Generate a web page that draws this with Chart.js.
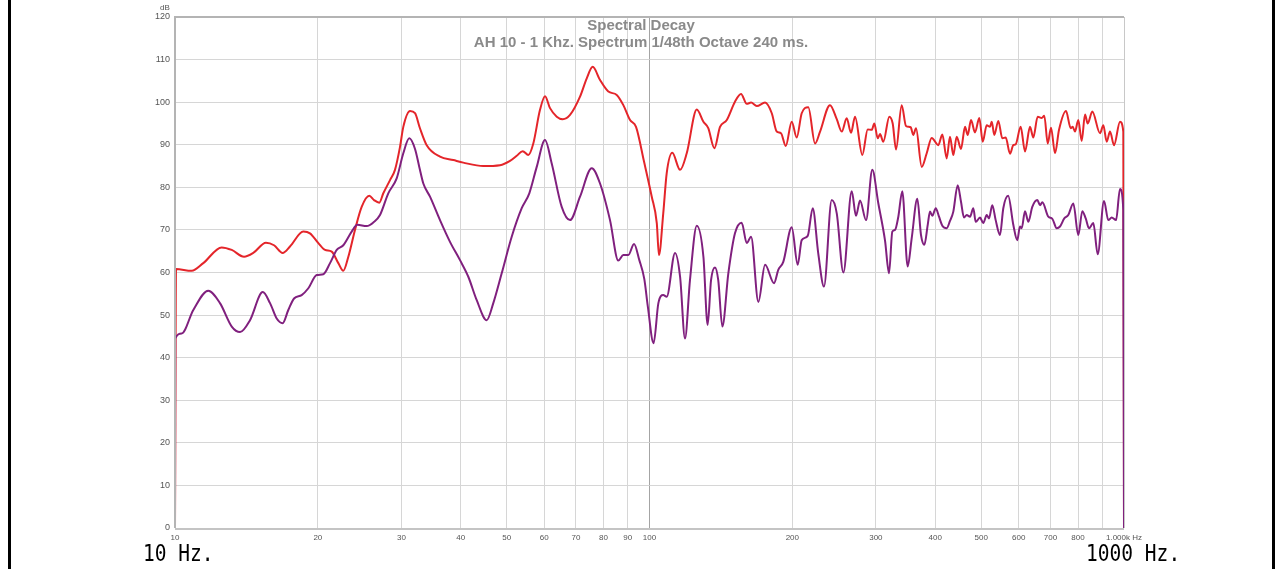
<!DOCTYPE html>
<html>
<head>
<meta charset="utf-8">
<script src="https://cdn.jsdelivr.net/npm/chart.js@4.4.1/dist/chart.umd.min.js"></script>
<style>
html,body{margin:0;padding:0;background:#fff;}
canvas{display:block;}
</style>
</head>
<body>
<canvas id="c" width="1276" height="569"></canvas>
<script>
// ---- data ----
const redHz = [10,10.05,10.84,11.47,12.54,13.17,13.98,14.62,15.55,16.17,16.86,17.47,18.64,19.25,20.05,20.71,21.39,22.09,22.63,23.19,23.95,24.74,25.67,26.27,26.95,27.48,28.39,29.08,29.80,30.28,31.28,32.05,32.8,33.92,36.18,38.60,40.51,44.64,48.41,50.82,52.50,54.05,55.54,56.90,58.78,60.23,61.71,63.75,65.63,68.00,71.38,73.75,75.92,78.66,81.89,85.30,88.08,90.99,93.67,97.4,101.1,103.6,104.7,106.9,108.7,111.7,116.0,119.8,125.8,129.9,133.0,137.0,140.8,145.5,151.4,155.9,160.3,163.7,168.3,175.2,181.0,185.4,189.3,193.7,199.4,204.3,209.3,216.1,223.3,228.8,240.1,248.1,254.2,260.4,265.9,271.1,280.9,288.3,294.0,297.7,302.7,306.1,311.0,320.2,325.5,330.8,340.0,347.2,355.2,359.7,364.5,374.7,383.9,
  393.3,406.1,414.1,423.0,429.8,436.8,444.0,453.4,462.3,468.4,476.0,485.3,495.5,503.9,513.6,521.9,526.3,533.0,543.4,554.1,563.3,575.1,584.4,591.3,605.7,618.6,633.7,644.0,657.8,670.8,679.3,690.6,701.8,715.5,729.6,754.7,772.1,779.7,788.4,801.1,814.4,827.6,838.5,857.4,890.1,904.5,919.5,934.4,952.7,980.8,996.6,1000];
const redDb = [0,60.8,60.4,62.2,65.9,65.3,63.7,64.6,67.0,66.4,64.6,66.1,69.6,69.2,66.9,65.3,64.9,62.2,60.4,63.7,70.0,75.4,78.0,77.0,76.4,78.6,81.7,84.1,89.5,94.2,97.9,97.4,94.0,89.9,87.2,86.4,85.8,85.0,85.2,86.2,87.4,88.5,87.6,90.3,98.2,101.4,98.6,96.6,96.0,97.0,101.3,105.6,108.3,105.2,102.5,101.7,99.3,95.8,94.2,86.0,77.8,71.6,64.1,73.9,83.3,88.1,84.1,88.0,98.3,95.4,93.9,89.2,94.2,95.8,100.1,101.9,99.6,99.9,99.1,99.9,97.4,93.1,92.7,89.7,95.4,91.7,97.4,98.8,90.3,93.1,99.3,96.0,93.1,96.2,92.8,96.6,87.6,93.6,93.5,95.0,91.5,92.5,90.7,96.6,95.0,88.9,99.3,94.4,94.1,92.3,93.9,84.8,88.0,
  91.6,89.9,92.4,86.8,91.9,87.6,91.9,89.0,94.2,92.3,95.8,92.9,96.3,90.7,94.6,94.2,95.4,92.3,95.6,91.5,91.7,87.9,89.9,90.1,94.2,88.4,94.2,91.7,96.6,96.3,96.8,90.3,94.0,88.0,93.5,97.9,93.9,94.2,93.1,95.8,90.9,97.1,95.0,97.8,92.7,94.6,90.7,93.1,89.9,95.4,93.1,0];

const purpleHz = [10,10.01,10.33,10.93,11.75,12.44,13.17,13.71,14.39,15.31,15.86,16.38,16.86,17.33,17.82,18.49,19.10,19.89,20.54,21.22,21.92,22.63,23.57,24.22,25.35,26.27,27.04,28.15,29.32,30.28,31.17,32.05,32.72,33.37,34.47,36.18,37.98,39.87,41.51,43.24,45.39,46.86,48.81,51.24,53.79,55.81,57.85,60.23,62.22,65.31,68.00,71.38,75.56,78.66,82.56,85.96,88.08,90.23,92.77,95.18,97.5,99.2,102.0,104.4,106.9,108.7,113.2,116.0,118.8,121.7,125.8,129.9,132.6,134.8,137.4,139.6,142.4,146.6,151.4,156.4,160.3,163.7,169.6,175.2,183.0,186.8,191.4,199.4,205.3,209.3,215.5,220.8,226.8,233.2,242.1,248.1,256.2,266.8,272.4,277.8,286.0,294.8,303.6,
  313.6,319.7,324.9,329.2,334.5,341.0,350.0,356.9,366.8,373.4,379.5,385.8,390.1,394.5,401.1,407.5,414.1,423.0,429.8,436.8,446.2,453.4,460.1,466.1,473.7,481.3,487.0,497.2,505.2,513.6,519.3,527.7,536.5,547.8,556.7,570.0,584.4,595.8,603.6,608.7,618.6,628.6,640.8,656.6,665.3,672.8,692.7,706.3,721.4,733.0,748.5,763.1,781.9,801.1,816.9,830.5,843.8,861.6,880.2,907.6,926.7,942.1,962.1,980.8,996.6,1000];
const purpleDb = [0,44.5,45.7,51.2,55.7,52.8,47.3,46.0,48.8,55.4,52.8,49.2,48.1,51.2,53.9,54.7,56.3,59.4,59.6,62.2,65.3,66.4,69.6,71.2,70.9,71.9,73.5,78.6,82.1,88.0,91.5,89.0,84.8,80.9,77.8,72.3,67.2,62.9,59.0,53.5,48.8,52.8,59.8,68.4,75.1,78.6,84.8,91.1,85.6,75.4,72.3,77.8,84.5,80.9,72.3,62.8,64.1,64.1,66.7,62.9,58.5,52.0,43.4,52.8,54.7,54.3,64.6,59.0,44.5,58.2,71.0,63.7,47.7,58.2,61.2,58.2,47.3,59.8,69.2,71.7,66.9,68.4,53.1,61.8,57.5,60.6,62.5,70.6,61.8,67.6,68.6,75.1,64.5,56.7,77.0,73.9,60.0,79.1,73.3,76.9,72.3,84.1,76.2,
  67.5,59.8,69.6,70.0,73.1,79.1,61.4,68.0,77.3,68.8,66.5,71.2,74.3,73.3,75.1,73.1,71.0,70.4,72.1,74.3,80.5,76.6,72.9,73.5,73.1,75.1,71.9,72.9,71.6,73.5,72.7,75.8,72.3,68.8,75.1,78.0,71.2,67.6,70.8,70.4,74.4,71.9,75.4,77.0,75.8,76.5,73.1,72.6,70.4,70.8,72.7,73.5,76.2,68.8,74.4,72.7,70.4,71.6,64.3,76.8,72.3,72.9,72.3,79.6,74.7,0];

const xTickValues = [10,20,30,40,50,60,70,80,90,100,200,300,400,500,600,700,800,900,1000];
const xTickLabels = ['10','20','30','40','50','60','70','80','90','100','200','300','400','500','600','700','800','','1.000k Hz'];
const yTickValues = [0,10,20,30,40,50,60,70,80,90,100,110,120];

const titleLines = ['Spectral Decay','AH 10 - 1 Khz. Spectrum 1/48th Octave 240 ms.'];
const leftNote = '10 Hz.';
const rightNote = '1000 Hz.';

const toPts = (xs, ys) => xs.map((x, i) => ({x: x, y: ys[i]}));

const decorPlugin = {
  id: 'decor',
  beforeDraw(chart) {
    const c = chart.ctx;
    c.save();
    c.fillStyle = '#ffffff';
    c.fillRect(0, 0, chart.width, chart.height);
    c.fillStyle = '#000000';
    c.fillRect(8, 0, 3, chart.height);
    c.fillRect(1272, 0, 3, chart.height);
    c.restore();
  },
  afterDraw(chart) {
    const c = chart.ctx;
    const a = chart.chartArea;
    c.save();
    // plot frame
    c.strokeStyle = '#b4b4b4';
    c.lineWidth = 2;
    c.beginPath();
    c.moveTo(a.left, a.bottom);
    c.lineTo(a.left, a.top);
    c.lineTo(a.right, a.top);
    c.stroke();
    c.lineWidth = 1;
    c.strokeStyle = '#c8c8c8';
    c.beginPath();
    c.moveTo(a.right + 0.5, a.top);
    c.lineTo(a.right + 0.5, a.bottom);
    c.stroke();
    c.lineWidth = 2;
    c.strokeStyle = '#c4c4c4';
    c.beginPath();
    c.moveTo(a.left, a.bottom + 1);
    c.lineTo(a.right, a.bottom + 1);
    c.stroke();
    // title
    c.fillStyle = '#8a8a8a';
    c.font = 'bold 15px "Liberation Sans", Arial, sans-serif';
    c.textAlign = 'center';
    c.textBaseline = 'alphabetic';
    c.fillText(titleLines[0], 641, 30);
    c.fillText(titleLines[1], 641, 47);
    // dB unit
    c.fillStyle = '#555';
    c.font = '8px "Liberation Sans", Arial, sans-serif';
    c.textAlign = 'center';
    c.fillText('dB', 165, 10);
    // bottom notes
    c.fillStyle = '#000';
    c.font = '23px "DejaVu Sans Mono", monospace';
    c.textAlign = 'left';
    c.save();
    c.translate(143, 561);
    c.scale(0.85, 1);
    c.fillText(leftNote, 0, 0);
    c.restore();
    c.save();
    c.translate(1086, 561);
    c.scale(0.85, 1);
    c.fillText(rightNote, 0, 0);
    c.restore();
    c.restore();
  }
};

new Chart(document.getElementById('c'), {
  type: 'line',
  data: {
    datasets: [
      {
        label: 'purple',
        data: toPts(purpleHz, purpleDb),
        borderColor: '#80207e',
        borderWidth: 2,
        pointRadius: 0,
        cubicInterpolationMode: 'monotone',
        fill: false
      },
      {
        label: 'red',
        data: toPts(redHz, redDb),
        borderColor: '#e4252a',
        borderWidth: 2,
        pointRadius: 0,
        cubicInterpolationMode: 'monotone',
        fill: false
      }
    ]
  },
  options: {
    responsive: false,
    devicePixelRatio: 1,
    animation: false,
    events: [],
    layout: {padding: {left: 0, top: 17, right: 152, bottom: 0}},
    plugins: {legend: {display: false}, tooltip: {enabled: false}, title: {display: false}},
    scales: {
      x: {
        type: 'logarithmic',
        min: 10,
        max: 1000,
        afterBuildTicks: (s) => { s.ticks = xTickValues.map(v => ({value: v})); },
        afterFit: (s) => { s.height = 41; },
        border: {display: false},
        grid: {
          drawTicks: false,
          color: (ctx) => (ctx.tick && ctx.tick.value === 100) ? '#a4a4a4' : '#d6d6d6',
          lineWidth: 1
        },
        ticks: {
          autoSkip: false,
          maxRotation: 0,
          padding: 5,
          color: '#555',
          font: {family: '"Liberation Sans", Arial, sans-serif', size: 8},
          callback: (v, i) => xTickLabels[i]
        }
      },
      y: {
        type: 'linear',
        min: 0,
        max: 120,
        afterBuildTicks: (s) => { s.ticks = yTickValues.map(v => ({value: v})); },
        afterFit: (s) => { s.width = 175; },
        border: {display: false},
        grid: {drawTicks: false, color: '#d6d6d6', lineWidth: 1},
        ticks: {
          padding: 5,
          color: '#555',
          font: {family: '"Liberation Sans", Arial, sans-serif', size: 9},
          callback: (v) => String(v)
        }
      }
    }
  },
  plugins: [decorPlugin]
});
</script>
</body>
</html>
